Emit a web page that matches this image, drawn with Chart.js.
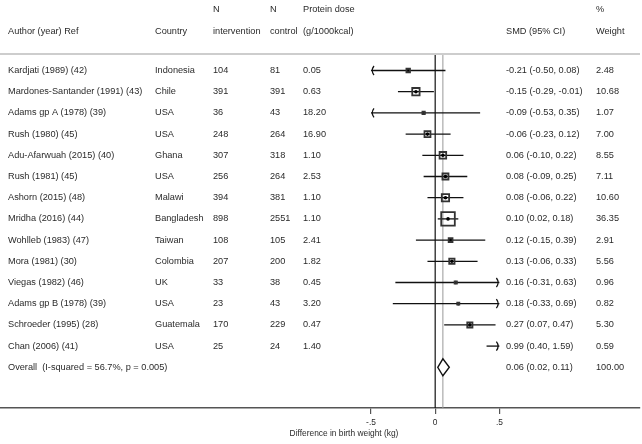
<!DOCTYPE html>
<html><head><meta charset="utf-8">
<script src="https://cdn.jsdelivr.net/npm/chart.js@4.4.1/dist/chart.umd.min.js"></script>
<style>html,body{margin:0;padding:0;background:#fff;}canvas{display:block;}</style>
</head><body>
<canvas id="c" width="642" height="444"></canvas>
<script>
// ---- data ----
const authors = ["Kardjati (1989) (42)","Mardones-Santander (1991) (43)","Adams gp A (1978) (39)","Rush (1980) (45)","Adu-Afarwuah (2015) (40)","Rush (1981) (45)","Ashorn (2015) (48)","Mridha (2016) (44)","Wohlleb (1983) (47)","Mora (1981) (30)","Viegas (1982) (46)","Adams gp B (1978) (39)","Schroeder (1995) (28)","Chan (2006) (41)"];
const countries = ["Indonesia","Chile","USA","USA","Ghana","USA","Malawi","Bangladesh","Taiwan","Colombia","UK","USA","Guatemala","USA"];
const nIntervention = [104,391,36,248,307,256,394,898,108,207,33,23,170,25];
const nControl = [81,391,43,264,318,264,381,2551,105,200,38,43,229,24];
const proteinDose = ["0.05","0.63","18.20","16.90","1.10","2.53","1.10","1.10","2.41","1.82","0.45","3.20","0.47","1.40"];
const smd = [-0.21,-0.15,-0.09,-0.06,0.06,0.08,0.08,0.10,0.12,0.13,0.16,0.18,0.27,0.99];
const ciLow = [-0.50,-0.29,-0.53,-0.23,-0.10,-0.09,-0.06,0.02,-0.15,-0.06,-0.31,-0.33,0.07,0.40];
const ciHigh = [0.08,-0.01,0.35,0.12,0.22,0.25,0.22,0.18,0.39,0.33,0.63,0.69,0.47,1.59];
const weights = [2.48,10.68,1.07,7.00,8.55,7.11,10.60,36.35,2.91,5.56,0.96,0.82,5.30,0.59];
const overallLabel = "Overall  (I-squared = 56.7%, p = 0.005)";
const overallSmd = 0.06, overallLow = 0.02, overallHigh = 0.11, overallWeight = "100.00";
const xTicks = [-0.5, 0, 0.5];
const plotRange = [-0.5, 0.5];
const headerTop = ["","","N","N","Protein dose","","%"];
const headerBottom = ["Author (year) Ref","Country","intervention","control","(g/1000kcal)","SMD (95% CI)","Weight"];
const xTitle = "Difference in birth weight (kg)";

// ---- helpers ----
const fmt2 = v => v.toFixed(2);
const ciText = (m, l, h) => `${fmt2(m)} (${fmt2(l)}, ${fmt2(h)})`;
const inRange = v => v >= plotRange[0] && v <= plotRange[1];
const rows = smd.map((v, i) => i);
const OVERALL_ROW = authors.length;

const FONT = '"Liberation Sans", Arial, Helvetica, sans-serif';
const TXT = '#2a2a2a';
const COLS = [8, 155, 213, 270, 303, 506, 596];
const BOX = 2.25;

const forest = {
  id: 'forest',
  beforeDatasetsDraw(chart) {
    const {ctx, chartArea: a, scales: {x, y}} = chart;
    ctx.save();
    const x0 = x.getPixelForValue(0);
    ctx.strokeStyle = '#111'; ctx.lineWidth = 1.2;
    ctx.beginPath(); ctx.moveTo(x0, a.top); ctx.lineTo(x0, a.bottom); ctx.stroke();
    const xo = x.getPixelForValue(overallSmd);
    ctx.strokeStyle = '#999'; ctx.lineWidth = 1;
    ctx.beginPath(); ctx.moveTo(xo, a.top); ctx.lineTo(xo, a.bottom); ctx.stroke();
    ctx.strokeStyle = '#111'; ctx.lineWidth = 1.3;
    rows.forEach(i => {
      const lo = Math.max(ciLow[i], plotRange[0]);
      const hi = Math.min(ciHigh[i], plotRange[1]);
      const py = y.getPixelForValue(i);
      const pl = x.getPixelForValue(lo), ph = x.getPixelForValue(hi);
      ctx.beginPath(); ctx.moveTo(pl, py); ctx.lineTo(ph, py); ctx.stroke();
      if (ciLow[i] <= plotRange[0]) {
        ctx.beginPath();
        ctx.moveTo(pl + 3, py - 4.5); ctx.quadraticCurveTo(pl - 0.5, py, pl + 3, py + 4.5); ctx.stroke();
      }
      if (ciHigh[i] >= plotRange[1]) {
        ctx.beginPath();
        ctx.moveTo(ph - 3, py - 4.5); ctx.quadraticCurveTo(ph + 0.5, py, ph - 3, py + 4.5); ctx.stroke();
      }
    });
    ctx.restore();
  },
  afterDatasetsDraw(chart) {
    const {ctx, scales: {x, y}} = chart;
    const py = y.getPixelForValue(OVERALL_ROW);
    ctx.save();
    ctx.beginPath();
    ctx.moveTo(x.getPixelForValue(overallLow), py);
    ctx.lineTo(x.getPixelForValue(overallSmd), py - 8.5);
    ctx.lineTo(x.getPixelForValue(overallHigh), py);
    ctx.lineTo(x.getPixelForValue(overallSmd), py + 8.5);
    ctx.closePath();
    ctx.fillStyle = '#fff'; ctx.fill();
    ctx.strokeStyle = '#111'; ctx.lineWidth = 1.4; ctx.stroke();
    ctx.restore();
  },
  afterDraw(chart) {
    const {ctx, chartArea: a, scales: {x, y}} = chart;
    ctx.save();
    ctx.strokeStyle = '#bdbdbd'; ctx.lineWidth = 1.3;
    ctx.beginPath(); ctx.moveTo(0, a.top - 1); ctx.lineTo(a.right, a.top - 1); ctx.stroke();
    ctx.fillStyle = TXT;
    ctx.font = `9.2px ${FONT}`;
    ctx.textBaseline = 'middle'; ctx.textAlign = 'left';
    headerTop.forEach((t, c) => { if (t) ctx.fillText(t, COLS[c], 9); });
    headerBottom.forEach((t, c) => ctx.fillText(t, COLS[c], 31));
    rows.forEach(i => {
      const py = y.getPixelForValue(i);
      const cells = [authors[i], countries[i], String(nIntervention[i]), String(nControl[i]), proteinDose[i],
                     ciText(smd[i], ciLow[i], ciHigh[i]), fmt2(weights[i])];
      cells.forEach((t, c) => ctx.fillText(t, COLS[c], py));
    });
    const po = y.getPixelForValue(OVERALL_ROW);
    ctx.fillText(overallLabel, COLS[0], po);
    ctx.fillText(ciText(overallSmd, overallLow, overallHigh), COLS[5], po);
    ctx.fillText(overallWeight, COLS[6], po);
    ctx.font = `8.4px ${FONT}`;
    ctx.textAlign = 'center';
    ctx.fillText(xTitle, 344, 434);
    ctx.restore();
  }
};

const boxData = rows.filter(i => inRange(smd[i])).map(i => ({x: smd[i], y: i, w: weights[i]}));
const dotData = rows.filter(i => inRange(smd[i])).map(i => ({x: smd[i], y: i}));

new Chart(document.getElementById('c'), {
  type: 'scatter',
  data: {
    datasets: [
      {
        data: boxData,
        pointStyle: 'rect',
        pointRadius: c => c.raw ? BOX * Math.sqrt(c.raw.w) / (2 * Math.SQRT1_2) : 0,
        backgroundColor: 'rgba(0,0,0,0)',
        borderColor: '#333',
        pointBorderWidth: 1.8,
        showLine: false
      },
      {
        data: dotData,
        pointStyle: 'circle',
        pointRadius: 1.8,
        backgroundColor: '#000',
        borderColor: '#000',
        pointBorderWidth: 0,
        showLine: false
      }
    ]
  },
  options: {
    responsive: false,
    animation: false,
    events: [],
    layout: {autoPadding: false, padding: {top: 55, left: 0, right: 2, bottom: 0}},
    plugins: {legend: {display: false}, tooltip: {enabled: false}},
    scales: {
      x: {
        type: 'linear',
        min: -3.389,
        max: 1.595,
        afterBuildTicks: s => { s.ticks = xTicks.map(v => ({value: v})); },
        afterFit: s => { s.height = 36; },
        grid: {drawOnChartArea: false, drawTicks: true, tickLength: 6, color: '#555', lineWidth: 1.2},
        border: {display: true, color: '#555', width: 1.6},
        ticks: {
          autoSkip: false, maxRotation: 0, padding: 4, color: TXT,
          font: {family: FONT, size: 8.4},
          callback: v => String(v).replace('0.', '.')
        }
      },
      y: {
        type: 'linear',
        display: false,
        reverse: true,
        min: -0.731,
        max: 15.92
      }
    }
  },
  plugins: [forest]
});
</script>
</body></html>
